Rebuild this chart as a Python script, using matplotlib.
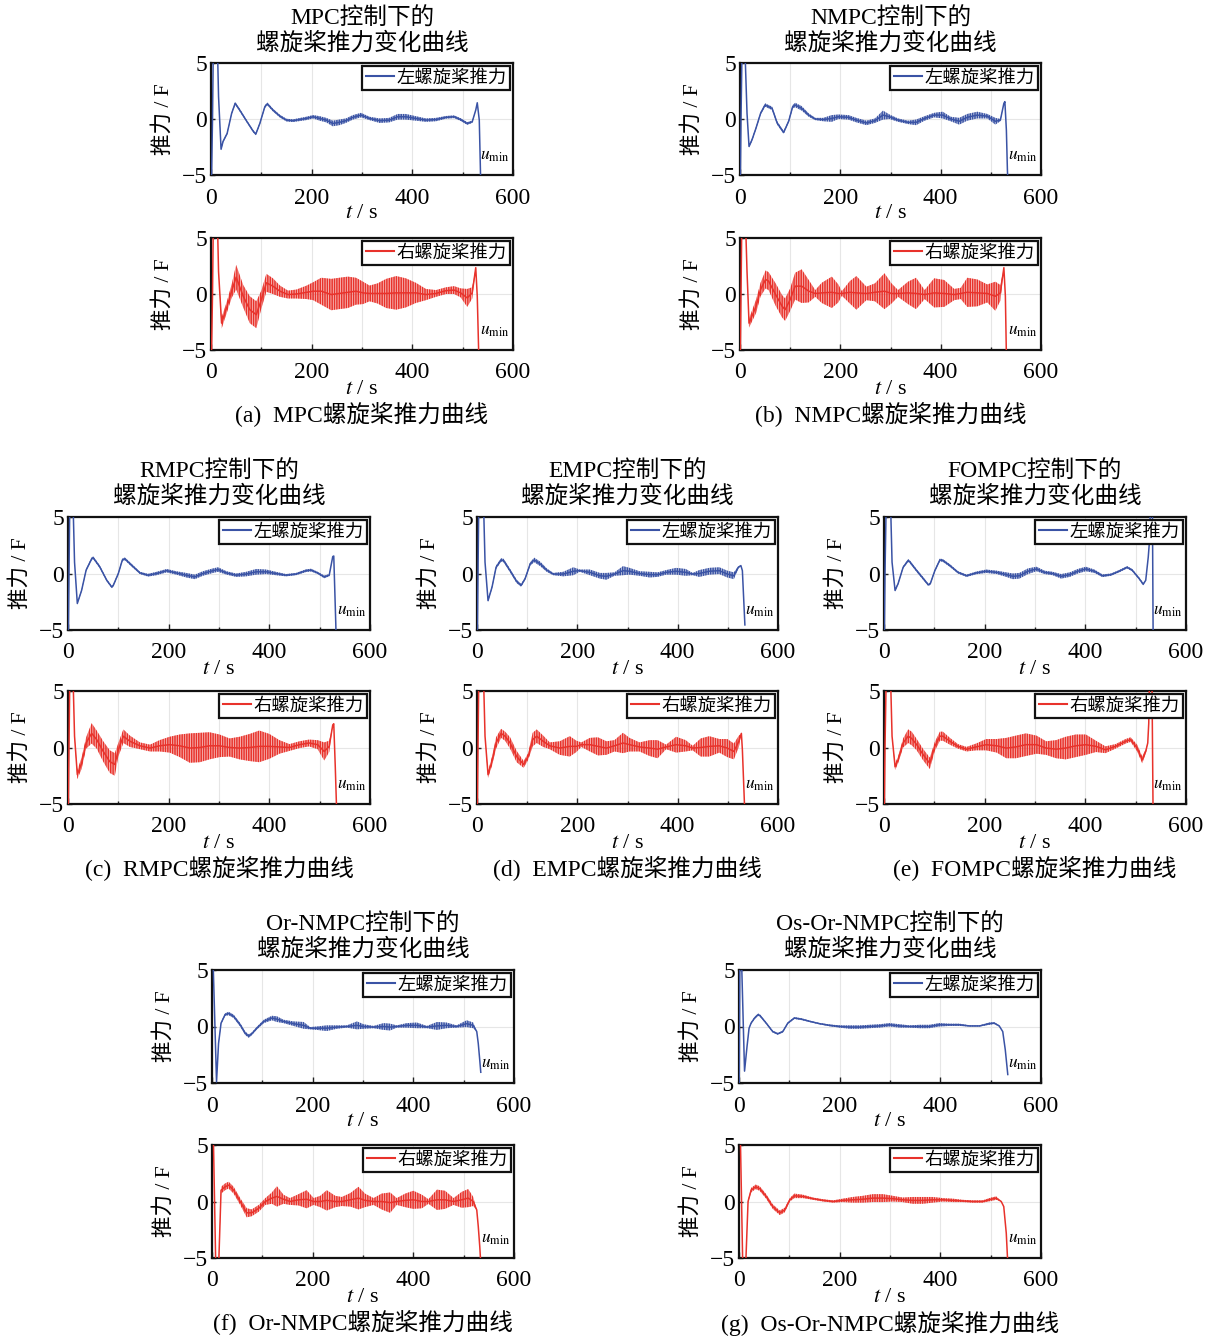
import numpy as np
import matplotlib
matplotlib.use('Agg')
import matplotlib.pyplot as plt
import matplotlib.colors as mcolors

# ---- data: t (s), thrust trend, ripple half-amplitude ----
# (a) MPC
MPC_T1 = [0, 3, 5, 12, 15, 20, 24, 32, 41, 48, 57, 71, 84, 89, 97, 107, 112, 123, 137, 150, 163, 189, 203, 216, 229, 242,
          255, 268, 282, 298, 315, 335, 354, 371, 387, 407, 427, 447, 467, 483, 496, 509, 519, 526, 529, 533, 535, 537]
MPC_Y1 = [-8, 0, 8, 8, 2, -2.7, -2.0, -1.3, 0.5, 1.4, 0.8, -0.2, -1.1, -1.35, -0.4, 1.1, 1.35, 0.8, 0.25, -0.1, -0.15,
          0.05, 0.2, 0.05, -0.1, -0.4, -0.3, -0.15, 0.15, 0.35, 0.05, -0.15, -0.1, 0.2, 0.2, 0.05, -0.1, -0.05, 0.15, 0.2,
          -0.05, -0.4, -0.25, 0.8, 1.45, -0.1, -4.0, -8]
MPC_A1 = [0, 0, 0, 0, 0, 0.1, 0.1, 0.1, 0.1, 0.12, 0.12, 0.1, 0.1, 0.1, 0.1, 0.12, 0.12, 0.12, 0.12, 0.12, 0.12, 0.15,
          0.15, 0.2, 0.2, 0.25, 0.25, 0.2, 0.2, 0.2, 0.15, 0.2, 0.2, 0.25, 0.25, 0.2, 0.15, 0.15, 0.12, 0.12, 0.12, 0.12,
          0.1, 0, 0, 0, 0, 0]
MPC_T2 = [0, 3, 5, 12, 15, 21, 32, 41, 50, 64, 77, 90, 100, 110, 123, 137, 153, 170, 190, 203, 219, 239, 255, 272, 288,
          302, 315, 331, 348, 368, 387, 407, 427, 447, 467, 483, 496, 509, 519, 526, 529, 532, 534]
MPC_Y2 = [-8, 0, 8, 8, 2, -2.6, -1.1, 0.25, 1.5, -0.2, -1.4, -1.85, -0.5, 1.0, 0.7, 0.25, -0.05, 0, 0.15, 0.25, 0.25,
          -0.05, 0.05, 0.15, 0.25, 0.1, 0.05, 0.05, 0.05, 0.1, 0.1, 0.1, -0.05, 0.05, 0.3, 0.35, 0.1, -0.35, 0.1, 2.35,
          -0.2, -5.5, -8]
MPC_A2 = [0, 0, 0, 0, 0, 0.5, 0.5, 0.6, 1.1, 1.0, 1.2, 1.2, 0.8, 0.8, 0.7, 0.5, 0.35, 0.4, 0.6, 0.8, 1.2, 1.4, 1.4, 1.4,
          1.2, 1.0, 0.7, 0.9, 1.3, 1.5, 1.3, 0.9, 0.5, 0.3, 0.3, 0.35, 0.4, 0.8, 0.5, 0, 0, 0, 0]

# (b) NMPC
NMPC_T1 = [0, 2, 4, 10, 14, 18, 24, 32, 41, 50, 64, 74, 87, 97, 105, 110, 123, 137, 150, 166, 183, 196, 216, 232, 252,
           269, 285, 298, 315, 335, 351, 368, 387, 404, 420, 437, 453, 473, 493, 509, 519, 526, 528, 531, 533, 536]
NMPC_Y1 = [-8, 0, 6, 6, 0.5, -2.45, -1.85, -0.8, 0.5, 1.25, 0.95, -0.35, -1.2, -0.2, 1.1, 1.25, 0.95, 0.35, 0, -0.05,
           0.05, 0.2, 0.15, -0.1, -0.35, -0.15, 0.35, 0.2, -0.1, -0.3, -0.3, 0.05, 0.35, 0.35, 0, -0.2, 0.15, 0.35, 0.25,
           -0.2, -0.1, 1.4, 1.55, -1.0, -4.5, -8]
NMPC_A1 = [0, 0, 0, 0, 0, 0.1, 0.12, 0.12, 0.12, 0.15, 0.15, 0.15, 0.12, 0.12, 0.15, 0.2, 0.2, 0.15, 0.1, 0.15, 0.3, 0.2,
           0.2, 0.2, 0.2, 0.2, 0.4, 0.2, 0.15, 0.15, 0.25, 0.2, 0.2, 0.3, 0.2, 0.3, 0.3, 0.3, 0.2, 0.3, 0.1, 0, 0, 0, 0, 0]
NMPC_T2 = [0, 2, 4, 10, 14, 18, 32, 41, 51, 57, 71, 84, 90, 100, 110, 123, 137, 150, 163, 183, 196, 203, 219, 232, 252,
           269, 288, 302, 315, 335, 351, 368, 387, 407, 427, 440, 453, 473, 493, 509, 519, 526, 529, 531, 534]
NMPC_Y2 = [-8, 0, 8, 8, 2, -2.6, -1.1, 0.4, 1.3, 1.15, -0.05, -1.1, -1.4, -0.5, 0.7, 0.7, 0.25, 0.05, 0.1, 0.15, 0.05,
           0.05, 0.15, 0.1, 0.05, 0.15, 0.25, 0.05, 0.05, 0.1, 0.05, -0.05, 0.1, 0.05, -0.05, 0.05, 0.15, 0.1, 0.05, -0.2,
           0.1, 2.35, -0.2, -5.5, -8]
NMPC_A2 = [0, 0, 0, 0, 0, 0.4, 0.6, 0.6, 0.8, 0.8, 1.0, 1.0, 1.0, 1.0, 1.2, 1.5, 1.0, 0.3, 0.9, 1.4, 0.8, 0.2, 1.0, 1.5,
           0.6, 0.8, 1.6, 0.9, 0.3, 1.0, 1.4, 0.4, 1.3, 1.2, 0.5, 0.5, 1.3, 1.2, 0.8, 1.3, 0.7, 0, 0, 0, 0]

# (c) RMPC
RMPC_T1 = [0, 2, 4, 9, 13, 18.5, 27, 36, 47, 50, 63, 77, 87, 90, 100, 108, 113, 126, 143, 159, 176, 196, 215, 235, 252,
           268, 288, 298, 315, 334, 354, 374, 394, 413, 433, 453, 473, 483, 496, 509, 519, 526, 528, 532, 534]
RMPC_Y1 = [-8, 0, 8, 8, 1, -2.65, -1.5, 0.3, 1.3, 1.4, 0.6, -0.6, -1.2, -1.05, 0, 1.2, 1.3, 0.75, 0.05, -0.15, 0, 0.25,
           0.05, -0.15, -0.3, 0, 0.25, 0.35, 0.05, -0.15, -0.05, 0.15, 0.15, 0, -0.15, -0.05, 0.25, 0.3, 0.05, -0.3,
           -0.15, 1.5, 1.55, -4.4, -8]
RMPC_A1 = [0, 0, 0, 0, 0, 0.1, 0.1, 0.1, 0.12, 0.12, 0.12, 0.1, 0.1, 0.1, 0.1, 0.12, 0.12, 0.12, 0.1, 0.12, 0.15, 0.15,
           0.15, 0.2, 0.2, 0.2, 0.2, 0.2, 0.15, 0.15, 0.2, 0.25, 0.2, 0.15, 0.1, 0.1, 0.12, 0.12, 0.1, 0.12, 0.1, 0, 0, 0, 0]
RMPC_T2 = [0, 2, 4, 9, 13, 18.5, 27, 36, 47, 57, 70, 83, 93, 100, 110, 123, 143, 163, 182, 202, 222, 242, 262, 281, 301,
           321, 341, 361, 380, 400, 420, 440, 460, 479, 496, 509, 519, 526, 528, 531, 534]
RMPC_Y2 = [-8, 0, 8, 8, 1, -2.4, -1.4, 0.4, 1.25, 0.7, -0.35, -1.25, -1.5, -0.2, 1.0, 0.55, 0.15, -0.05, 0.15, 0.25,
           0.15, -0.05, 0, 0.15, 0.15, 0, -0.05, 0, 0.1, 0.1, 0.05, 0, 0.25, 0.4, 0.25, -0.35, 0.1, 2.0, 2.1, -1.7, -6]
RMPC_A2 = [0, 0, 0, 0, 0, 0.4, 0.5, 0.5, 0.9, 0.8, 0.9, 1.0, 1.0, 0.6, 0.6, 0.5, 0.3, 0.3, 0.5, 0.7, 1.0, 1.3, 1.3, 1.2,
           1.0, 0.8, 1.0, 1.2, 1.4, 1.1, 0.6, 0.3, 0.3, 0.3, 0.4, 0.8, 0.5, 0, 0, 0, 0]

# (d) EMPC
EMPC_T1 = [0, 2, 4, 12, 16, 22, 30, 38, 48, 53, 66, 79, 88, 96, 106, 114, 126, 139, 152, 172, 192, 205, 225, 245, 258,
           274, 291, 304, 324, 344, 360, 377, 397, 416, 430, 443, 463, 483, 499, 512, 521, 526, 529, 534]
EMPC_Y1 = [-8, 0, 8, 8, 1, -2.4, -1.2, 0.55, 1.2, 1.15, 0.25, -0.7, -1.05, -0.45, 0.85, 1.2, 0.85, 0.3, -0.05, -0.05,
           0.2, 0.25, 0.1, -0.2, -0.25, -0.05, 0.25, 0.2, 0, -0.1, -0.1, 0.1, 0.2, 0.1, -0.05, 0, 0.2, 0.25, -0.05, -0.2,
           0.55, 0.7, 0.25, -4.55]
EMPC_A1 = [0, 0, 0, 0, 0, 0.1, 0.12, 0.15, 0.15, 0.15, 0.15, 0.15, 0.12, 0.12, 0.15, 0.2, 0.2, 0.15, 0.1, 0.2, 0.35, 0.1,
           0.25, 0.25, 0.3, 0.15, 0.4, 0.3, 0.2, 0.25, 0.2, 0.2, 0.3, 0.3, 0.1, 0.3, 0.3, 0.3, 0.3, 0.3, 0.1, 0, 0, 0]
EMPC_T2 = [0, 2, 4, 12, 16, 22, 30, 38, 48, 56, 66, 79, 93, 102, 111, 119, 132, 145, 165, 185, 198, 208, 225, 241, 258,
           274, 291, 304, 324, 344, 360, 377, 397, 416, 430, 446, 463, 483, 499, 512, 522, 527, 529, 534]
EMPC_Y2 = [-8, 0, 8, 8, 1, -2.4, -1.2, 0.4, 1.25, 1.0, 0.4, -0.8, -1.5, -0.8, 0.7, 1.0, 0.55, 0.15, -0.05, 0.1, 0.1,
           0.25, 0.25, 0.1, -0.05, 0.15, 0.4, 0.25, 0.05, -0.05, -0.15, 0.05, 0.25, 0.15, -0.05, 0, 0.1, 0.15, -0.05,
           -0.35, 0.55, 1.25, -0.2, -6]
EMPC_A2 = [0, 0, 0, 0, 0, 0.3, 0.4, 0.5, 0.4, 0.4, 0.5, 0.5, 0.3, 0.3, 0.6, 0.6, 0.5, 0.3, 0.6, 0.9, 0.5, 0.2, 0.6, 0.8,
           0.6, 0.5, 0.9, 0.6, 0.4, 0.7, 0.8, 0.2, 0.7, 0.5, 0.2, 0.8, 0.9, 0.6, 0.8, 0.7, 0.5, 0, 0, 0]

# (e) FOMPC
FOMPC_T1 = [0, 2, 5, 12, 16, 22, 28, 38, 48, 51, 65, 78, 88, 92, 101, 111, 117, 131, 147, 164, 183, 203, 224, 243, 256,
            269, 286, 303, 319, 335, 352, 369, 385, 401, 418, 434, 451, 467, 483, 493, 507, 515, 520, 525, 528, 530,
            533, 535]
FOMPC_Y1 = [-8, 0, 8, 8, 1, -1.5, -0.9, 0.55, 1.15, 1.05, 0.25, -0.45, -1.0, -0.9, 0.25, 1.2, 1.15, 0.7, 0.1, -0.2,
            0.05, 0.2, 0.1, -0.1, -0.25, -0.2, 0.2, 0.4, 0.1, 0, -0.25, -0.1, 0.2, 0.4, 0.2, -0.2, -0.1, 0.2, 0.55, 0.3,
            -0.45, -0.95, -0.6, 1.45, 3.2, 8, 8, -8]
FOMPC_A1 = [0, 0, 0, 0, 0, 0.1, 0.1, 0.1, 0.12, 0.12, 0.12, 0.12, 0.1, 0.1, 0.1, 0.12, 0.12, 0.12, 0.1, 0.1, 0.12, 0.15,
            0.15, 0.2, 0.25, 0.25, 0.25, 0.2, 0.15, 0.15, 0.2, 0.2, 0.2, 0.2, 0.15, 0.12, 0.1, 0.1, 0.1, 0.1, 0.1, 0.1,
            0, 0, 0, 0, 0, 0]
FOMPC_T2 = [0, 2, 5, 12, 16, 22, 28, 38, 48, 55, 65, 78, 91, 101, 111, 117, 131, 147, 164, 183, 203, 224, 243, 262, 282,
            303, 322, 342, 361, 381, 401, 421, 440, 460, 480, 490, 503, 513, 520, 524, 526, 528, 532, 535]
FOMPC_Y2 = [-8, 0, 8, 8, 1, -1.7, -1.1, 0.4, 1.0, 0.8, 0.25, -0.65, -1.4, 0.1, 1.0, 1.0, 0.55, 0.1, -0.15, 0.05, 0.25,
            0.15, -0.05, 0.05, 0.25, 0.25, -0.05, -0.15, -0.05, 0.15, 0.25, 0.1, -0.2, 0.1, 0.55, 0.7, -0.05, -1.1,
            -0.35, 0.4, 2.15, 8, 8, -8]
FOMPC_A2 = [0, 0, 0, 0, 0, 0.3, 0.3, 0.4, 0.6, 0.6, 0.5, 0.5, 0.5, 0.4, 0.4, 0.4, 0.3, 0.2, 0.2, 0.3, 0.5, 0.6, 0.9, 1.0,
            1.0, 0.8, 0.6, 0.8, 1.0, 1.0, 0.9, 0.5, 0.3, 0.2, 0.2, 0.2, 0.3, 0.3, 0.2, 0, 0, 0, 0, 0]

# (f) Or-NMPC
ORN_T1 = [0, 2, 9, 13, 18, 26, 33, 43, 56, 66, 73, 79, 89, 103, 119, 129, 142, 162, 182, 195, 208, 228, 248, 268, 288,
          301, 321, 341, 354, 367, 387, 407, 427, 447, 466, 486, 506, 519, 526, 529, 532, 534]
ORN_Y1 = [8, 6, -4.9, -1.5, 0.3, 1.05, 1.15, 0.9, 0.15, -0.6, -0.85, -0.65, -0.15, 0.45, 0.75, 0.65, 0.45, 0.25, 0.1,
          -0.15, -0.15, -0.15, -0.05, 0, 0.1, 0, -0.05, 0, -0.05, 0, 0.1, 0.1, -0.05, 0.05, 0.1, 0, 0.25, 0.1, -0.45,
          -1.5, -3.0, -4.05]
ORN_A1 = [0, 0, 0, 0.1, 0.1, 0.12, 0.15, 0.15, 0.15, 0.15, 0.15, 0.12, 0.12, 0.15, 0.2, 0.25, 0.15, 0.2, 0.3, 0.1, 0.15,
          0.25, 0.15, 0.1, 0.35, 0.2, 0.1, 0.3, 0.3, 0.1, 0.2, 0.25, 0.1, 0.35, 0.25, 0.1, 0.3, 0.25, 0, 0, 0, 0]
ORN_T2 = [0, 3, 8, 13, 18, 26, 33, 43, 56, 69, 79, 93, 106, 119, 129, 142, 155, 172, 188, 202, 215, 228, 245, 258, 275,
          291, 304, 321, 337, 354, 367, 384, 400, 417, 430, 447, 463, 480, 496, 509, 519, 526, 529, 532, 534]
ORN_Y2 = [8, 5, -7, -6, 1.0, 1.3, 1.45, 1.0, 0, -1.0, -1.0, -0.6, 0, 0.3, 0.45, 0.2, 0, 0.15, 0.2, 0, 0, 0.1, 0, 0,
          0.15, 0.3, 0.1, 0, 0, -0.1, 0, 0.1, 0.15, 0, 0, 0.15, 0.15, 0, 0.15, 0.3, 0, -0.75, -2.2, -4.0, -5.5]
ORN_A2 = [0, 0, 0, 0, 0.3, 0.3, 0.3, 0.3, 0.3, 0.4, 0.3, 0.3, 0.3, 0.5, 0.9, 0.4, 0.3, 0.5, 0.8, 0.3, 0.5, 0.9, 0.5, 0.4,
          0.6, 1.0, 0.6, 0.3, 0.7, 0.9, 0.3, 0.6, 0.8, 0.6, 0.2, 0.9, 0.8, 0.3, 0.7, 0.8, 0.4, 0, 0, 0, 0]

# (g) Os-Or-NMPC
OSN_T1 = [0, 2, 5, 11, 16, 20, 24, 31, 38, 42, 54, 67, 77, 87, 97, 110, 124, 141, 160, 180, 200, 220, 240, 259, 279,
          299, 319, 339, 359, 378, 398, 418, 438, 458, 478, 497, 507, 517, 524, 529, 534]
OSN_Y1 = [-8, 8, 6, -3.95, -1.75, -0.15, 0.3, 0.75, 1.05, 0.95, 0.3, -0.45, -0.65, -0.45, 0.3, 0.75, 0.65, 0.45, 0.25,
          0.1, 0, -0.05, -0.05, 0, 0.05, 0.15, 0.05, 0, 0, 0, 0.15, 0.15, 0.15, 0.05, 0.05, 0.25, 0.3, 0.05, -0.45,
          -2.05, -4.25]
OSN_A1 = [0, 0, 0, 0, 0, 0.05, 0.08, 0.1, 0.1, 0.1, 0.08, 0.08, 0.08, 0.08, 0.08, 0.08, 0.08, 0.06, 0.06, 0.08, 0.1,
          0.15, 0.15, 0.15, 0.15, 0.15, 0.15, 0.1, 0.15, 0.15, 0.15, 0.1, 0.1, 0.05, 0.05, 0.1, 0.08, 0.05, 0, 0, 0]
OSN_T2 = [0, 3, 8, 13, 18, 24, 33, 41, 54, 67, 81, 91, 101, 110, 127, 147, 167, 187, 206, 226, 246, 266, 286, 306, 325,
          345, 365, 385, 405, 425, 444, 464, 484, 501, 511, 521, 526, 531, 534]
OSN_Y2 = [8, 5, -7, -6, 0, 1.0, 1.3, 1.15, 0.45, -0.45, -1.0, -0.75, 0.15, 0.5, 0.45, 0.25, 0.1, 0, 0.1, 0.15, 0.2,
          0.3, 0.3, 0.25, 0.15, 0.1, 0.1, 0.15, 0.15, 0.1, 0.05, 0, 0, 0.2, 0.3, 0, -0.45, -2.8, -5.5]
OSN_A2 = [0, 0, 0, 0, 0.1, 0.2, 0.2, 0.2, 0.2, 0.2, 0.2, 0.2, 0.15, 0.2, 0.15, 0.1, 0.1, 0.1, 0.15, 0.25, 0.3, 0.35,
          0.35, 0.25, 0.2, 0.3, 0.3, 0.25, 0.15, 0.15, 0.1, 0.1, 0.1, 0.15, 0.15, 0, 0, 0, 0]

METHODS = ['MPC', 'NMPC', 'RMPC', 'EMPC', 'FOMPC', 'Or-NMPC', 'Os-Or-NMPC']
LETTERS = ['a', 'b', 'c', 'd', 'e', 'f', 'g']
LEFT = [(MPC_T1, MPC_Y1, MPC_A1), (NMPC_T1, NMPC_Y1, NMPC_A1), (RMPC_T1, RMPC_Y1, RMPC_A1),
        (EMPC_T1, EMPC_Y1, EMPC_A1), (FOMPC_T1, FOMPC_Y1, FOMPC_A1), (ORN_T1, ORN_Y1, ORN_A1),
        (OSN_T1, OSN_Y1, OSN_A1)]
RIGHT = [(MPC_T2, MPC_Y2, MPC_A2), (NMPC_T2, NMPC_Y2, NMPC_A2), (RMPC_T2, RMPC_Y2, RMPC_A2),
         (EMPC_T2, EMPC_Y2, EMPC_A2), (FOMPC_T2, FOMPC_Y2, FOMPC_A2), (ORN_T2, ORN_Y2, ORN_A2),
         (OSN_T2, OSN_Y2, OSN_A2)]

plt.rcParams['font.family'] = ['Liberation Serif', 'Noto Sans CJK SC']
plt.rcParams['mathtext.fontset'] = 'stix'
plt.rcParams['axes.unicode_minus'] = True
plt.rcParams['hatch.linewidth'] = 1.1

W, H = 1215, 1340
fig = plt.figure(figsize=(W / 100, H / 100), dpi=100)

BLUE = '#3a53a5'
RED = '#e8322b'

# axes left/right edge (px) and row of each panel
X_EDGES = [(211, 513), (740, 1041), (68, 370), (477, 778), (884, 1186), (212, 514), (739, 1041)]
ROW = [0, 0, 1, 1, 1, 2, 2]
# per row: top axes (y0, y1), bottom axes (y0, y1), title lines y, caption y
ROWS = [((63, 175), (238, 350), (19, 43), 415),
        ((517, 630), (691, 804), (472, 496), 869),
        ((970, 1083), (1145, 1258), (925, 950), 1323)]


def px_axes(x0, x1, y0, y1):
    return fig.add_axes([x0 / W, 1 - y1 / H, (x1 - x0) / W, (y1 - y0) / H])


def thrust_axes(x0, x1, y0, y1, data, color, label):
    ax = px_axes(x0, x1, y0, y1)
    t, y, a = (np.array(v, dtype=float) for v in data)
    ax.fill_between(t, y - a, y + a, facecolor=mcolors.to_rgba(color, 0.3), edgecolor=color,
                    linewidth=0, hatch='|||||||', zorder=2)
    line, = ax.plot(t, y, color=color, lw=1.1, zorder=3)
    ax.set_xlim(0, 600)
    ax.set_ylim(-5, 5)
    ax.set_xticks([0, 200, 400, 600])
    ax.set_xticks([100, 300, 500], minor=True)
    ax.set_yticks([-5, 0, 5])
    ax.tick_params(which='both', direction='in', labelsize=17, width=1.0, color='#222222')
    ax.tick_params(axis='x', which='major', length=4, pad=9)
    ax.tick_params(axis='x', which='minor', length=2.5)
    ax.tick_params(axis='y', length=3, pad=3)
    ax.grid(which='both', color='#e6e6e6', lw=0.8)
    ax.set_axisbelow(True)
    for s in ax.spines.values():
        s.set_linewidth(1.6)
        s.set_color('#111111')
    leg = ax.legend([line], [label], loc='upper right', fontsize=13.2, fancybox=False, framealpha=1,
                    edgecolor='#111111', borderpad=0.2, handlelength=1.5, handletextpad=0.15,
                    borderaxespad=0.15)
    leg.get_frame().set_linewidth(1.6)
    leg.get_lines()[0].set_linewidth(1.5)
    ax.text(535, -3.3, r'$u_{\rm min}$', fontsize=12.5, ha='left', va='center')
    cx = (x0 + x1) / 2
    fig.text(cx / W, 1 - (y1 + 39) / H, r'$t$ / s', fontsize=16, ha='center', va='center')
    fig.text((x0 - 48) / W, 1 - (y0 + y1) / 2 / H, '推力 / F', fontsize=15.5, rotation=90,
             ha='center', va='center')
    return ax


for i, name in enumerate(METHODS):
    x0, x1 = X_EDGES[i]
    (ta, tb), (ba, bb), (l1, l2), cap = ROWS[ROW[i]]
    thrust_axes(x0, x1, ta, tb, LEFT[i], BLUE, '左螺旋桨推力')
    thrust_axes(x0, x1, ba, bb, RIGHT[i], RED, '右螺旋桨推力')
    cx = (x0 + x1) / 2 / W
    fig.text(cx, 1 - l1 / H, name + '控制下的', fontsize=17, ha='center', va='center')
    fig.text(cx, 1 - l2 / H, '螺旋桨推力变化曲线', fontsize=17, ha='center', va='center')
    fig.text(cx, 1 - cap / H, '(' + LETTERS[i] + ')  ' + name + '螺旋桨推力曲线', fontsize=17,
             ha='center', va='center')

fig.savefig('out.png', dpi=100)
